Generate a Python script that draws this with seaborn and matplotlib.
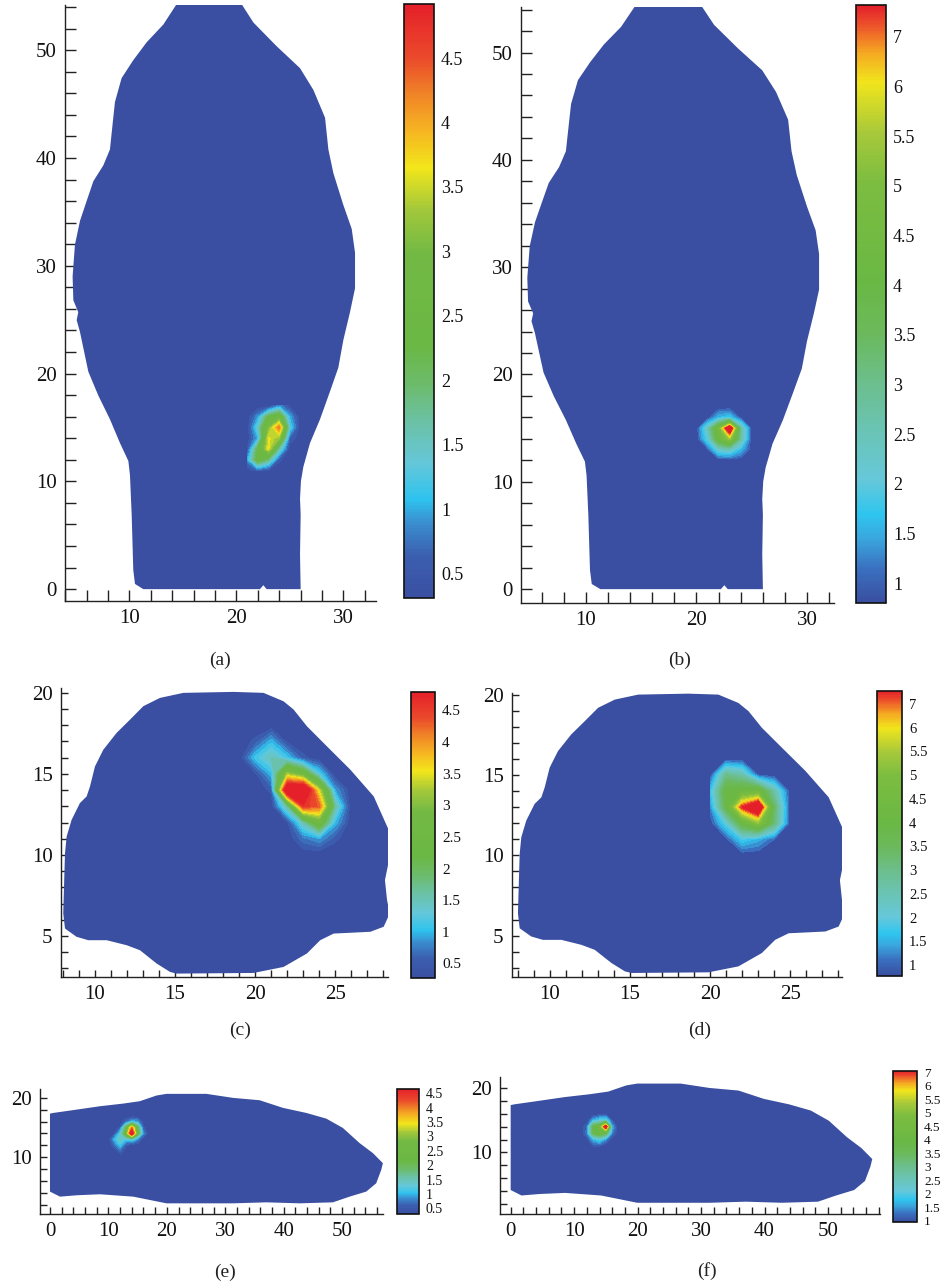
import numpy as np
import matplotlib
matplotlib.use("Agg")
import matplotlib.pyplot as plt
import seaborn as sns
from matplotlib.colors import LinearSegmentedColormap, Normalize
from matplotlib.ticker import MultipleLocator
import matplotlib.cm as cm

# --- outlines of the three slices ---
axial_x = [14.89, 20.03, 21.59, 23.77, 25.95, 27.20, 28.29, 28.60, 29.07, 30.00, 30.78, 31.09, 31.09,
           30.62, 30.00, 29.53, 28.75, 27.82, 26.88, 26.26, 26.04, 25.95, 26.01, 25.95, 26.01, 22.83,
           22.52, 22.21, 11.31, 10.53, 10.37, 10.22, 10.06, 9.91, 9.13, 8.19, 7.10, 6.17, 5.70, 5.39,
           5.08, 5.23, 4.77, 4.70, 4.92, 5.39, 6.01, 6.64, 7.57, 8.19, 8.50, 8.66, 9.28, 10.37, 11.62, 13.18]
axial_y = [55.0, 55.0, 52.58, 50.37, 48.34, 46.32, 43.74, 40.80, 38.59, 35.64, 33.43, 31.22, 27.91,
           25.70, 23.12, 20.55, 18.34, 15.76, 13.55, 11.34, 10.05, 8.39, 6.92, 3.24, 0.0, 0.0,
           0.37, 0.0, 0.0, 0.48, 1.77, 6.92, 10.60, 11.89, 13.55, 15.76, 17.97, 20.18, 22.39, 23.86,
           24.96, 25.70, 26.80, 29.01, 31.96, 34.17, 36.01, 37.85, 39.32, 40.80, 43.74, 45.21, 47.42, 49.08, 50.74, 52.39]

coronal_x = [15.10, 19.9, 21.77, 23.23, 24.06, 24.9, 27.19, 28.02, 28.4, 28.23, 28.1, 28.44, 28.33, 27.40,
             25.94, 24.48, 23.23, 22.4, 21.77, 20.52, 18.65, 15.52, 14.06, 13.02, 12.19, 11.35, 10.52,
             10.0, 9.69, 9.48, 9.06, 8.54, 8.23, 8.13, 8.08, 8.02, 8.13, 8.85, 9.58, 10.73, 11.98, 12.81,
             13.85, 14.69]
coronal_y = [2.68, 2.72, 3.09, 3.92, 4.74, 5.15, 5.26, 5.57, 6.39, 7.22, 8.45, 10.10, 11.55, 13.61,
             15.26, 16.70, 17.94, 18.97, 19.48, 20.0, 20.06, 20.0, 19.69, 19.18, 18.35, 17.53, 16.49,
             15.46, 14.23, 13.61, 13.20, 12.16, 11.13, 10.10, 8.45, 6.39, 5.46, 4.95, 4.74, 4.74, 4.43, 4.12,
             3.30, 2.78]

sagittal_x = [0.0, 0.57, 4.56, 8.55, 12.54, 15.38, 18.23, 19.94, 26.78, 31.34, 35.9, 39.89, 43.87, 47.29,
              50.14, 52.99, 55.27, 56.98, 56.7, 55.84, 54.13, 51.28, 48.43, 42.74, 37.04, 31.34, 19.94,
              16.52, 14.25, 8.55, 4.56, 1.71, 0.0]
sagittal_y = [17.34, 17.46, 18.02, 18.59, 19.04, 19.44, 20.40, 20.68, 20.68, 20.0, 19.6, 18.31, 17.46, 16.50,
              14.92, 12.37, 10.68, 8.98, 7.85, 5.59, 4.18, 3.33, 2.37, 2.20, 2.37, 2.20, 2.20,
              2.88, 3.33, 3.73, 3.56, 3.33, 4.18]

# --- hot spots: node values on a 1-unit grid (rows = y ascending) ---
hot_a_x = [21, 22, 23, 24, 25, 26]
hot_a_y = [11, 12, 13, 14, 15, 16, 17]
hot_a_z = [[0.3, 0.6, 0.4, 0.3, 0.3, 0.3],
           [0.9, 2.4, 1.8, 0.5, 0.3, 0.3],
           [0.4, 2.2, 3.6, 1.6, 0.3, 0.3],
           [0.3, 1.0, 3.6, 3.2, 0.6, 0.3],
           [0.3, 1.4, 3.0, 4.3, 1.3, 0.3],
           [0.3, 0.9, 2.2, 2.6, 1.0, 0.3],
           [0.3, 0.3, 0.3, 0.9, 0.4, 0.3]]

hot_b_x = [20, 21, 22, 23, 24, 25]
hot_b_y = [12, 13, 14, 15, 16, 17]
hot_b_z = [[0.8, 0.8, 0.8, 0.8, 0.8, 0.8],
           [0.8, 0.9, 2.2, 2.4, 1.6, 0.8],
           [0.8, 2.0, 4.2, 5.4, 2.8, 0.8],
           [0.8, 2.4, 4.6, 8.0, 2.8, 0.8],
           [0.8, 0.8, 1.6, 1.8, 0.9, 0.8],
           [0.8, 0.8, 0.8, 0.8, 0.8, 0.8]]

hot_c_x = [19, 20, 21, 22, 23, 24, 25, 26]
hot_c_y = [10, 11, 12, 13, 14, 15, 16, 17, 18]
hot_c_z = [[0.3, 0.3, 0.3, 0.3, 0.3, 0.3, 0.3, 0.3],
           [0.3, 0.3, 0.3, 0.3, 0.7, 0.9, 0.5, 0.3],
           [0.3, 0.3, 0.3, 0.4, 1.5, 2.6, 1.0, 0.3],
           [0.3, 0.3, 0.3, 1.6, 4.6, 4.3, 1.6, 0.3],
           [0.3, 0.3, 0.5, 5.6, 5.8, 3.4, 0.9, 0.3],
           [0.3, 0.4, 1.0, 3.2, 2.6, 1.2, 0.3, 0.3],
           [0.3, 1.1, 1.5, 1.1, 0.5, 0.3, 0.3, 0.3],
           [0.3, 0.5, 1.0, 0.4, 0.3, 0.3, 0.3, 0.3],
           [0.3, 0.3, 0.3, 0.3, 0.3, 0.3, 0.3, 0.3]]

hot_d_x = [20, 21, 22, 23, 24, 25]
hot_d_y = [10, 11, 12, 13, 14, 15, 16]
hot_d_z = [[0.8, 0.8, 0.8, 0.8, 0.8, 0.8],
           [0.8, 0.9, 1.8, 1.5, 1.0, 0.8],
           [0.8, 2.0, 4.0, 5.2, 3.2, 0.8],
           [1.2, 3.8, 6.8, 8.0, 3.4, 0.8],
           [1.6, 4.0, 4.2, 4.4, 2.6, 0.8],
           [0.8, 3.0, 2.6, 1.0, 0.8, 0.8],
           [0.8, 0.8, 0.8, 0.8, 0.8, 0.8]]

hot_e_x = [10, 11, 12, 13, 14, 15, 16, 17]
hot_e_y = [10, 11, 12, 13, 14, 15, 16, 17]
hot_e_z = [[0.3, 0.3, 0.3, 0.3, 0.3, 0.3, 0.3, 0.3],
           [0.3, 0.3, 0.6, 0.3, 0.3, 0.3, 0.3, 0.3],
           [0.3, 0.6, 1.1, 0.5, 0.3, 0.3, 0.3, 0.3],
           [0.3, 1.0, 1.4, 1.1, 1.3, 0.8, 0.3, 0.3],
           [0.3, 0.4, 1.2, 2.4, 5.2, 2.2, 0.8, 0.3],
           [0.3, 0.3, 0.5, 2.0, 4.0, 2.0, 0.5, 0.3],
           [0.3, 0.3, 0.3, 0.6, 1.0, 0.9, 0.3, 0.3],
           [0.3, 0.3, 0.3, 0.3, 0.3, 0.3, 0.3, 0.3]]

hot_f_x = [11, 12, 13, 14, 15, 16, 17]
hot_f_y = [10, 11, 12, 13, 14, 15, 16]
hot_f_z = [[0.8, 0.8, 0.8, 0.8, 0.8, 0.8, 0.8],
           [0.8, 0.8, 1.0, 1.0, 0.8, 0.8, 0.8],
           [0.8, 0.9, 1.6, 2.0, 1.4, 0.8, 0.8],
           [0.8, 1.3, 3.6, 4.2, 3.6, 1.3, 0.8],
           [0.8, 1.2, 3.8, 4.2, 7.5, 1.6, 0.8],
           [0.8, 0.8, 1.6, 2.0, 2.2, 1.0, 0.8],
           [0.8, 0.8, 0.8, 0.8, 0.8, 0.8, 0.8]]

# --- colour bar scales ---
low_ticks = [0.5, 1, 1.5, 2, 2.5, 3, 3.5, 4, 4.5]
low_labels = ["0.5", "1", "1.5", "2", "2.5", "3", "3.5", "4", "4.5"]
high_ticks = [1, 1.5, 2, 2.5, 3, 3.5, 4, 4.5, 5, 5.5, 6, 6.5]
high_labels = ["1", "1.5", "2", "2.5", "3", "3.5", "4", "4.5", "5", "5.5", "6", "7"]

low_cmap = LinearSegmentedColormap.from_list("low", [
    (0.0, "#3a4fa1"), (0.07, "#3b5fb0"), (0.126, "#3a8fd0"), (0.165, "#2ec3ef"),
    (0.226, "#65c7d9"), (0.292, "#6bc2a8"), (0.358, "#6cbb6c"), (0.425, "#6bb844"),
    (0.58, "#72b944"), (0.655, "#a3c83b"), (0.725, "#f2e61b"), (0.79, "#f6b322"),
    (0.85, "#f08327"), (0.91, "#eb4a2b"), (1.0, "#e5202a")])
high_cmap = LinearSegmentedColormap.from_list("high", [
    (0.0, "#3a4fa1"), (0.055, "#3a6fbf"), (0.105, "#3aa5dd"), (0.147, "#2ec5ef"),
    (0.205, "#66c8da"), (0.288, "#6ac4b4"), (0.372, "#6cbe8a"), (0.455, "#6bb95a"),
    (0.538, "#6ab844"), (0.705, "#7cbd40"), (0.788, "#a8c93a"), (0.872, "#f1e51c"),
    (0.922, "#f5a822"), (0.963, "#ee5a2a"), (1.0, "#e3202a")])

sns.set_theme(style="ticks")
plt.rcParams["font.family"] = ["Liberation Serif", "DejaVu Serif"]

W, H = 949, 1285
fig = plt.figure(figsize=(W / 100, H / 100), dpi=100)


def rect(l, t, r, b):
    return [l / W, 1 - b / H, (r - l) / W, (b - t) / H]


panels = [
    dict(ax=(65, 5, 376, 601), cax=(404, 4, 434, 598), ox=axial_x, oy=axial_y,
         hx=hot_a_x, hy=hot_a_y, hz=hot_a_z, cmap=low_cmap, vr=(0.31, 4.92), lo=0.45,
         ticks=low_ticks, labels=low_labels, xl=(3.99, 33.05), yl=(-1.1, 54.2),
         major=10, minor=2, tl=8, cbfs=13, tag="(a)", tagxy=(220, 660)),
    dict(ax=(521, 7, 834, 603), cax=(856, 5, 886, 603), ox=axial_x, oy=axial_y,
         hx=hot_b_x, hy=hot_b_y, hz=hot_b_z, cmap=high_cmap, vr=(0.8, 6.82), lo=1.0,
         ticks=high_ticks, labels=high_labels, xl=(4.13, 32.44), yl=(-1.29, 54.24),
         major=10, minor=2, tl=8, cbfs=13, tag="(b)", tagxy=(680, 660)),
    dict(ax=(61, 688, 388, 977), cax=(411, 692, 435, 978), ox=coronal_x, oy=coronal_y,
         hx=hot_c_x, hy=hot_c_y, hz=hot_c_z, cmap=low_cmap, vr=(0.27, 4.79), lo=0.45,
         ticks=low_ticks, labels=low_labels, xl=(7.88, 28.29), yl=(2.47, 20.3),
         major=5, minor=1, tl=5, cbfs=11, tag="(c)", tagxy=(240, 1030)),
    dict(ax=(512, 693, 842, 977), cax=(877, 691, 902, 976), ox=coronal_x, oy=coronal_y,
         hx=hot_d_x, hy=hot_d_y, hz=hot_d_z, cmap=high_cmap, vr=(0.77, 6.77), lo=1.0,
         ticks=high_ticks, labels=high_labels, xl=(7.65, 28.23), yl=(2.43, 20.1),
         major=5, minor=1, tl=5, cbfs=10.5, tag="(d)", tagxy=(700, 1030)),
    dict(ax=(40, 1089, 383, 1214), cax=(397, 1089, 419, 1214), ox=sagittal_x, oy=sagittal_y,
         hx=hot_e_x, hy=hot_e_y, hz=hot_e_z, cmap=low_cmap, vr=(0.3, 4.65), lo=0.45,
         ticks=low_ticks, labels=low_labels, xl=(-1.71, 57.0), yl=(0.4, 21.5),
         major=10, minor=2, tl=5, cbfs=10, tag="(e)", tagxy=(225, 1272)),
    dict(ax=(500, 1077, 880, 1214), cax=(893, 1071, 917, 1222), ox=sagittal_x, oy=sagittal_y,
         hx=hot_f_x, hy=hot_f_y, hz=hot_f_z, cmap=high_cmap, vr=(0.95, 6.55), lo=1.0,
         ticks=high_ticks, labels=high_labels, xl=(-1.68, 58.2), yl=(0.46, 21.7),
         major=10, minor=2, tl=5, cbfs=9.5, tag="(f)", tagxy=(707, 1271)),
]

for p in panels:
    ax = fig.add_axes(rect(*p["ax"]))
    cmap = p["cmap"]
    norm = Normalize(*p["vr"])
    cmap.set_over(cmap(1.0))

    ax.fill(p["ox"], p["oy"], color=cmap(0.0), lw=0, zorder=1)
    X, Y = np.meshgrid(p["hx"], p["hy"])
    levels = np.linspace(p["lo"], p["vr"][1], 30)
    ax.contourf(X, Y, np.array(p["hz"]), levels=levels, cmap=cmap, norm=norm,
                extend="max", zorder=2)

    ax.set_xlim(*p["xl"])
    ax.set_ylim(*p["yl"])
    ax.set_facecolor("white")
    ax.xaxis.set_major_locator(MultipleLocator(p["major"]))
    ax.yaxis.set_major_locator(MultipleLocator(p["major"]))
    ax.xaxis.set_minor_locator(MultipleLocator(p["minor"]))
    ax.yaxis.set_minor_locator(MultipleLocator(p["minor"]))
    ax.tick_params(which="both", direction="in", length=p["tl"], width=1.0,
                   color="#222222", labelsize=15, labelcolor="#111111", pad=6)
    sns.despine(ax=ax)
    for s in ("left", "bottom"):
        ax.spines[s].set_color("#222222")
        ax.spines[s].set_linewidth(1.0)

    cax = fig.add_axes(rect(*p["cax"]))
    cb = fig.colorbar(cm.ScalarMappable(norm=norm, cmap=cmap), cax=cax)
    cb.set_ticks(p["ticks"])
    cb.set_ticklabels(p["labels"])
    cb.ax.tick_params(length=0, labelsize=p["cbfs"], pad=5, labelcolor="#111111")
    cb.outline.set_edgecolor("#111111")
    cb.outline.set_linewidth(1.2)

    fig.text(p["tagxy"][0] / W, 1 - p["tagxy"][1] / H, p["tag"], ha="center", va="center",
             fontsize=14, color="#222222")

fig.savefig("out.png", dpi=100, facecolor="white")
